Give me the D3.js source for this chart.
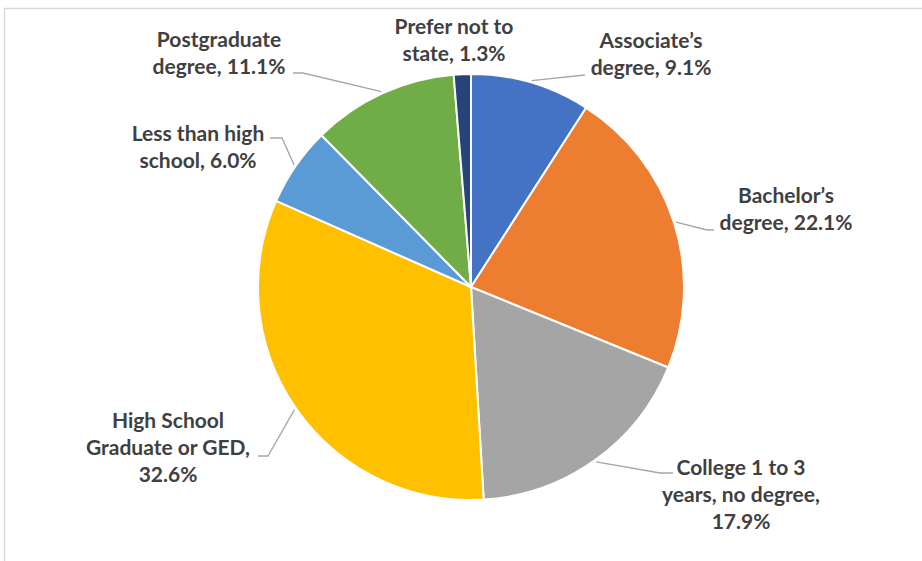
<!DOCTYPE html>
<html>
<head>
<meta charset="utf-8">
<script src="https://cdn.jsdelivr.net/npm/d3@7"></script>
<style>
  html, body { margin: 0; padding: 0; background: #fff; }
  svg { display: block; }
  .lbl { font-family: Lato, "Open Sans", sans-serif; font-weight: 700; font-size: 21px; fill: #404040; }
</style>
</head>
<body>
<svg id="chart" width="922" height="561"></svg>
<script>
// Education level breakdown (percent of respondents)
const categories = [
  "Associate’s degree",
  "Bachelor’s degree",
  "College 1 to 3 years, no degree",
  "High School Graduate or GED",
  "Less than high school",
  "Postgraduate degree",
  "Prefer not to state"
];
const values = [9.1, 22.1, 17.9, 32.6, 6.0, 11.1, 1.3];
const colors = ["#4472C4", "#ED7D31", "#A5A5A5", "#FFC000", "#5B9BD5", "#70AD47", "#264478"];

// Label text split into lines (the last line carries the percentage)
const labelLines = [
  ["Associate’s", "degree, {v}"],
  ["Bachelor’s", "degree, {v}"],
  ["College 1 to 3", "years, no degree,", "{v}"],
  ["High School", "Graduate or GED,", "{v}"],
  ["Less than high", "school, {v}"],
  ["Postgraduate", "degree, {v}"],
  ["Prefer not to", "state, {v}"]
];

// Label layout: text centre x, first baseline y, and leader elbow/end points
const labelLayout = [
  { x: 651, y: 48, elbow: [585, 75], end: [585, 75] },
  { x: 786, y: 203, elbow: [707, 230], end: [714, 230] },
  { x: 741, y: 475, elbow: [660, 473], end: [673, 473] },
  { x: 168, y: 428, elbow: [268, 456], end: [258, 456] },
  { x: 198, y: 141, elbow: [282, 138], end: [270, 138] },
  { x: 219, y: 47, elbow: [303, 73], end: [293, 73] },
  { x: 454, y: 34, elbow: null, end: null }
];

const svg = d3.select("#chart");
const cx = 471, cy = 287, radius = 213;
const lineGap = 27;

// Chart area frame
svg.append("rect")
  .attr("x", 4.5).attr("y", 8.5)
  .attr("width", 1000).attr("height", 1000)
  .attr("fill", "none")
  .attr("stroke", "#D9D9D9")
  .attr("stroke-width", 1.5);

const data = categories.map((c, i) => ({ name: c, value: values[i], i }));

const pie = d3.pie().sort(null).value(d => d.value);
const arcs = pie(data);
const arc = d3.arc().innerRadius(0).outerRadius(radius);
const edgeArc = d3.arc().innerRadius(radius + 2).outerRadius(radius + 2);

const g = svg.append("g").attr("transform", `translate(${cx},${cy})`);

g.selectAll("path.slice")
  .data(arcs)
  .join("path")
  .attr("class", "slice")
  .attr("d", arc)
  .attr("fill", d => colors[d.data.i])
  .attr("stroke", "#fff")
  .attr("stroke-width", 2)
  .attr("stroke-linejoin", "round");

// Leader lines from slice edge (mid-angle) to label
svg.selectAll("polyline.leader")
  .data(arcs.filter(d => labelLayout[d.data.i].end))
  .join("polyline")
  .attr("class", "leader")
  .attr("points", d => {
    const [sx, sy] = edgeArc.centroid(d);
    const L = labelLayout[d.data.i];
    return [[sx + cx, sy + cy], L.elbow, L.end].map(p => p.join(",")).join(" ");
  })
  .attr("fill", "none")
  .attr("stroke", "#A6A6A6")
  .attr("stroke-width", 1.3);

// Data labels
const lbl = svg.selectAll("text.lbl")
  .data(arcs)
  .join("text")
  .attr("class", "lbl")
  .attr("text-anchor", "middle")
  .attr("x", d => labelLayout[d.data.i].x)
  .attr("y", d => labelLayout[d.data.i].y);

lbl.each(function(d) {
  const L = labelLayout[d.data.i];
  const pct = d.data.value.toFixed(1) + "%";
  labelLines[d.data.i].forEach((line, k) => {
    d3.select(this).append("tspan")
      .attr("x", L.x)
      .attr("y", L.y + k * lineGap)
      .text(line.replace("{v}", pct));
  });
});
</script>
</body>
</html>
